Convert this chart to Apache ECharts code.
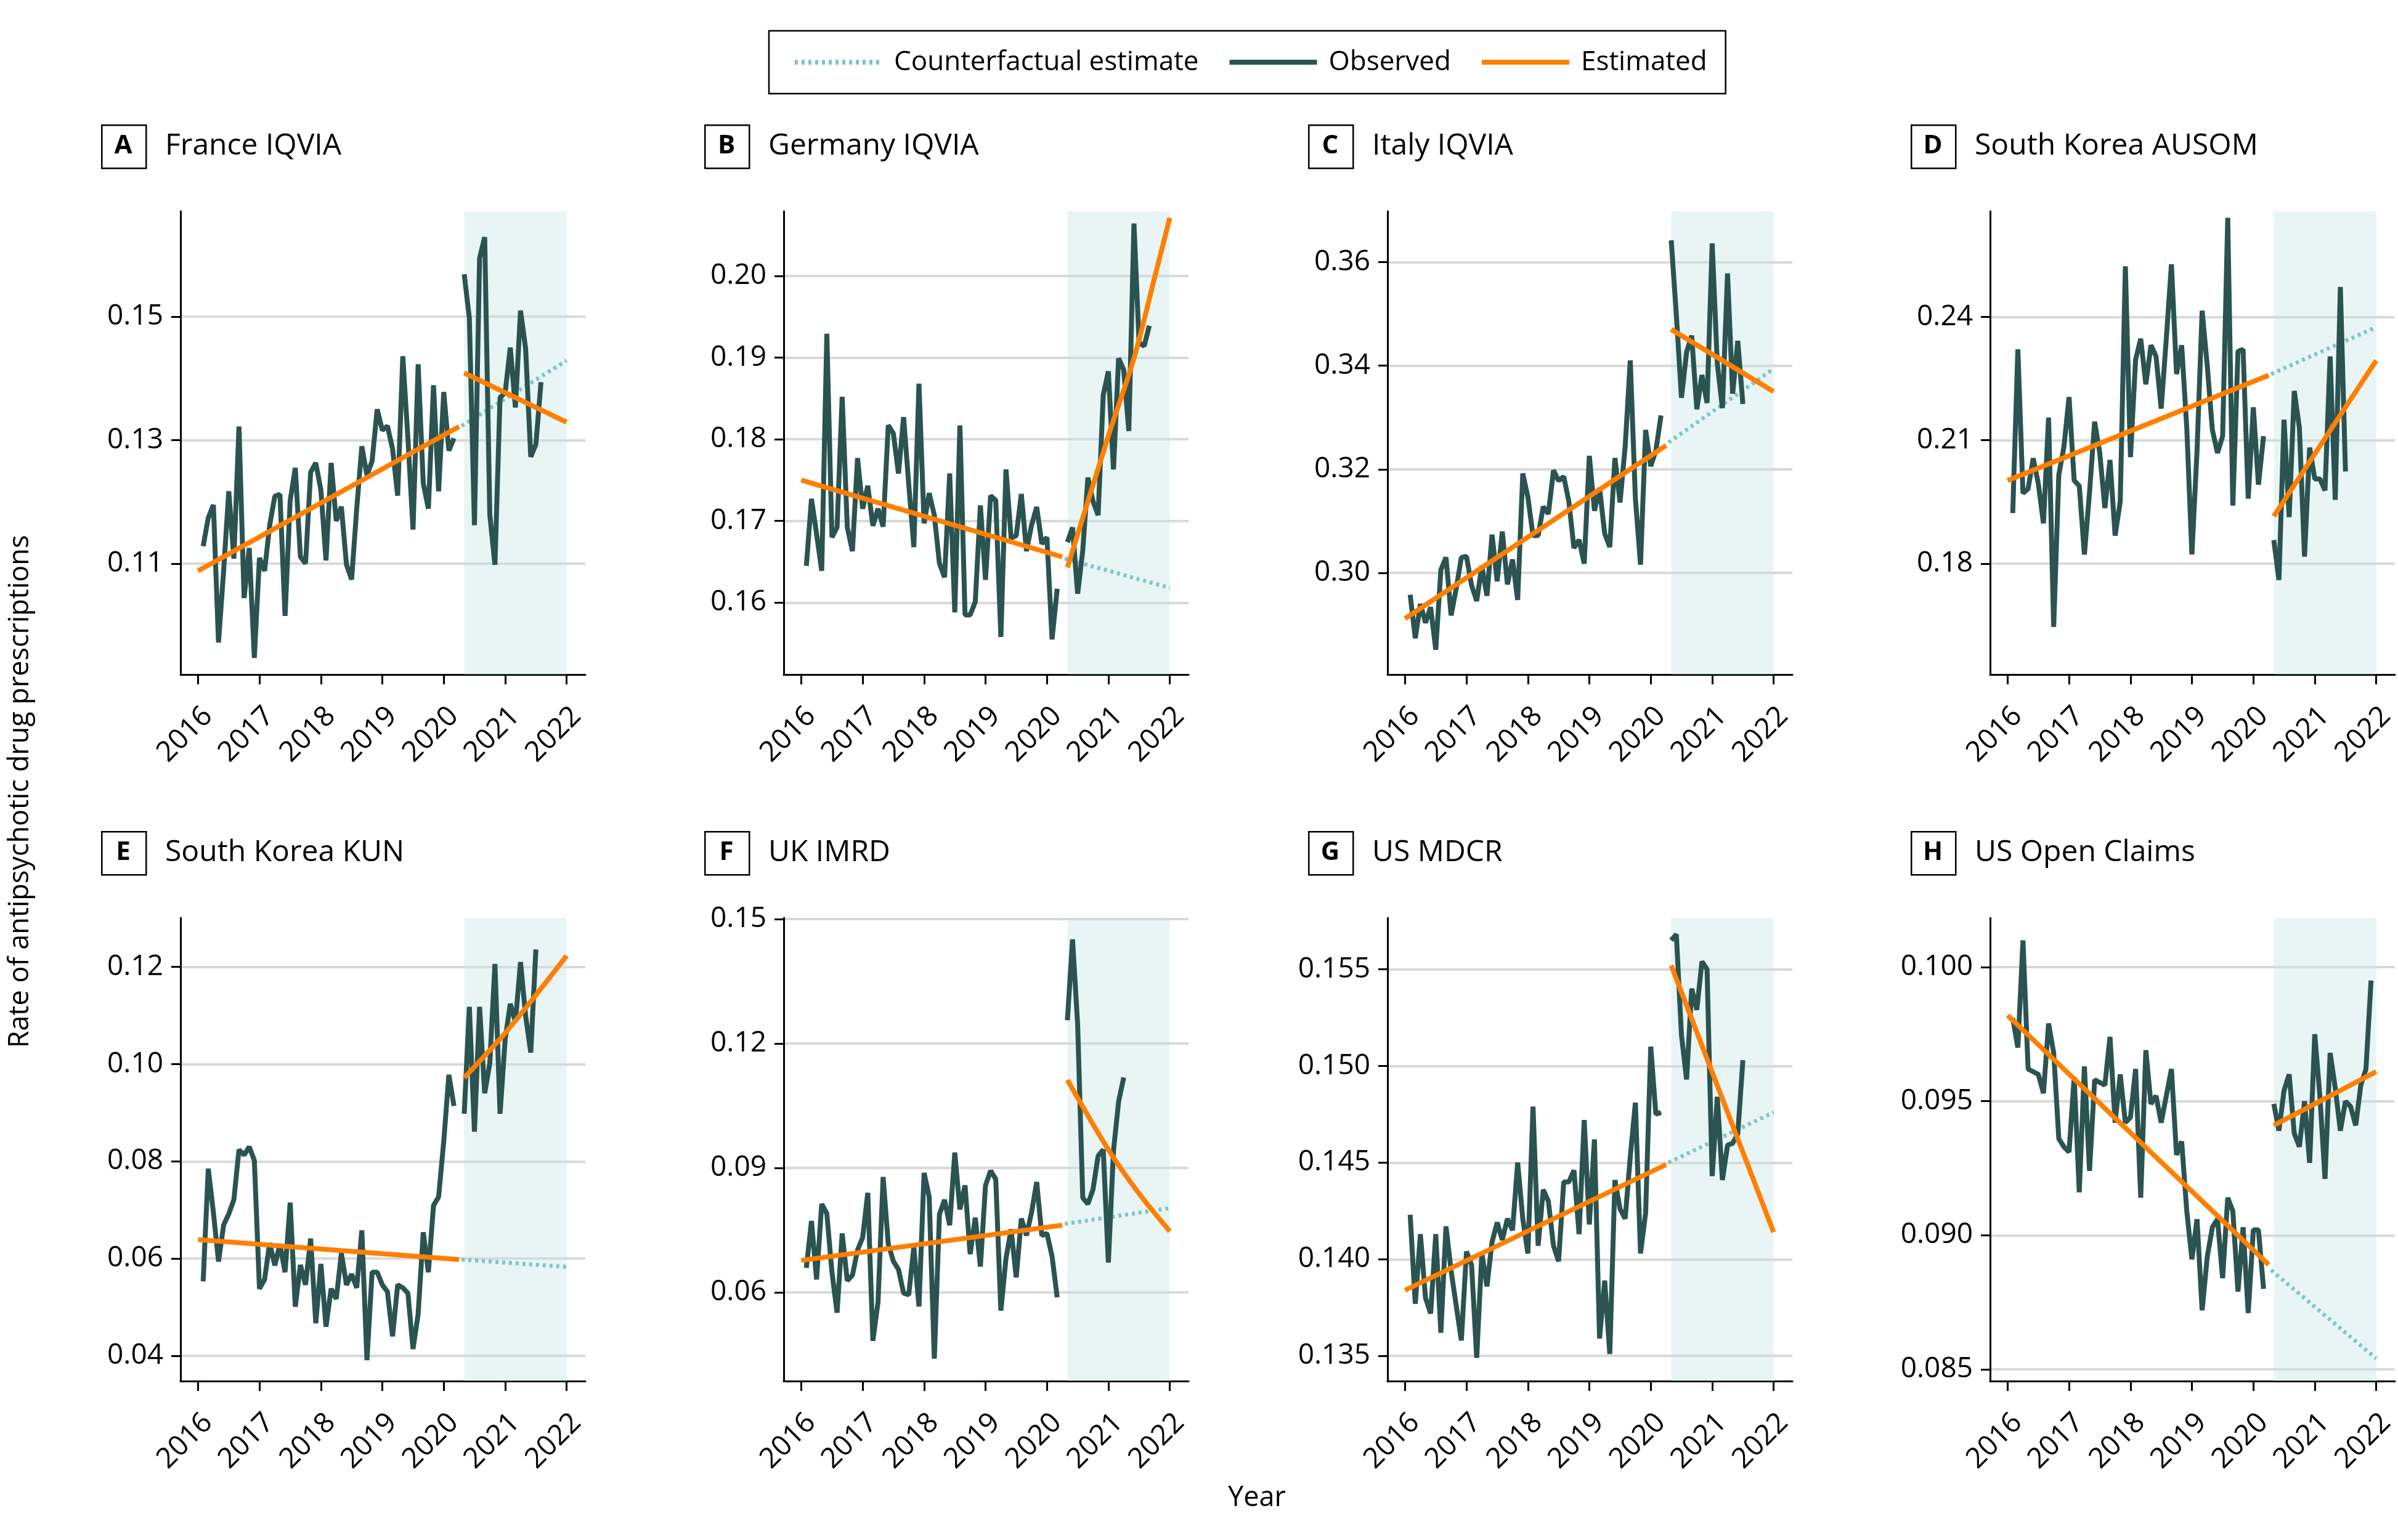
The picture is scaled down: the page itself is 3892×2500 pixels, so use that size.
<!DOCTYPE html>
<html><head><meta charset="utf-8">
<script src="https://cdn.jsdelivr.net/npm/echarts@6/dist/echarts.min.js"></script>
<style>html,body{margin:0;padding:0;background:#fff}#c{width:3892px;height:2500px}</style>
</head><body><div id="c"></div>
<script>
// ---------------- DATA ----------------
const panelLetters = ['A','B','C','D','E','F','G','H'];
const panelTitles = ['France IQVIA','Germany IQVIA','Italy IQVIA','South Korea AUSOM','South Korea KUN','UK IMRD','US MDCR','US Open Claims'];
const yearTicks = [2016,2017,2018,2019,2020,2021,2022];
const yTicks = [
  [0.11,0.13,0.15],
  [0.16,0.17,0.18,0.19,0.20],
  [0.30,0.32,0.34,0.36],
  [0.18,0.21,0.24],
  [0.04,0.06,0.08,0.10,0.12],
  [0.06,0.09,0.12,0.15],
  [0.135,0.140,0.145,0.150,0.155],
  [0.085,0.090,0.095,0.100]
];
const yDecimals = [2,2,2,2,2,2,3,3];
const yRange = [[0.0920,0.1671],[0.1512,0.2079],[0.2804,0.3698],[0.1530,0.2657],[0.0348,0.1301],[0.0386,0.1503],[0.1337,0.15766],[0.08456,0.10184]];

// observed monthly values; pre period starts Jan 2016 (month index 1), post period starts Apr 2020 (month index 52)
const preStartMonth = 1;
const postStartMonth = 52;
const obsPreA = [0.1128,0.1174,0.1195,0.0972,0.1088,0.1217,0.1108,0.1322,0.1044,0.1125,0.0947,0.1109,0.1088,0.1162,0.1209,0.1212,0.1015,0.1202,0.1255,0.1111,0.1100,0.1248,0.1263,0.1219,0.1105,0.1263,0.1169,0.1192,0.1098,0.1074,0.1189,0.1290,0.1243,0.1266,0.1350,0.1316,0.1323,0.1286,0.1210,0.1436,0.1303,0.1155,0.1423,0.1230,0.1189,0.1389,0.1217,0.1378,0.1283,0.1303];
const obsPostA = [0.1569,0.1498,0.1162,0.1595,0.1629,0.1179,0.1098,0.1369,0.1377,0.1450,0.1353,0.1510,0.1448,0.1273,0.1293,0.1394];
const obsPreB = [0.1645,0.1727,0.1684,0.1639,0.1929,0.1680,0.1692,0.1852,0.1692,0.1663,0.1777,0.1715,0.1743,0.1694,0.1715,0.1693,0.1817,0.1807,0.1758,0.1827,0.1745,0.1668,0.1868,0.1697,0.1734,0.1707,0.1648,0.1631,0.1758,0.1588,0.1817,0.1585,0.1585,0.1601,0.1719,0.1628,0.1731,0.1725,0.1558,0.1763,0.1679,0.1682,0.1733,0.1663,0.1695,0.1717,0.1672,0.1680,0.1555,0.1617];
const obsPostB = [0.1674,0.1692,0.1611,0.1664,0.1753,0.1724,0.1707,0.1854,0.1883,0.1763,0.1899,0.1885,0.1810,0.2064,0.1918,0.1914,0.1939];
const obsPreC = [0.2958,0.2874,0.2940,0.2904,0.2934,0.2852,0.3006,0.3030,0.2918,0.2970,0.3030,0.3032,0.2976,0.2946,0.3014,0.2956,0.3074,0.2984,0.3080,0.2978,0.3026,0.2948,0.3192,0.3146,0.3072,0.3072,0.3128,0.3114,0.3198,0.3178,0.3186,0.3138,0.3048,0.3064,0.3018,0.3226,0.3120,0.3164,0.3076,0.3050,0.3222,0.3136,0.3244,0.3410,0.3144,0.3016,0.3276,0.3206,0.3236,0.3304];
const obsPostC = [0.3642,0.3498,0.3338,0.3426,0.3458,0.3316,0.3382,0.3328,0.3636,0.3404,0.3318,0.3578,0.3346,0.3448,0.3326];
const obsPreD = [0.1923,0.2321,0.1971,0.1982,0.2056,0.1994,0.1898,0.2155,0.1646,0.2016,0.2084,0.2205,0.2002,0.1989,0.1822,0.1973,0.2145,0.2069,0.1935,0.2052,0.1868,0.1951,0.2523,0.2059,0.2296,0.2347,0.2236,0.2331,0.2304,0.2177,0.2347,0.2528,0.2261,0.2331,0.2130,0.1822,0.2074,0.2415,0.2281,0.2125,0.2069,0.2110,0.2641,0.1941,0.2316,0.2321,0.1958,0.2180,0.1992,0.2110];
const obsPostD = [0.1857,0.1760,0.2150,0.1913,0.2220,0.2130,0.1817,0.2082,0.2006,0.2006,0.1978,0.2304,0.1955,0.2473,0.2024];
const obsPreE = [0.0553,0.0785,0.0695,0.0594,0.0669,0.0692,0.0721,0.0824,0.0813,0.0830,0.0802,0.0538,0.0557,0.0632,0.0586,0.0630,0.0572,0.0715,0.0501,0.0587,0.0546,0.0641,0.0467,0.0589,0.0460,0.0538,0.0517,0.0611,0.0546,0.0568,0.0540,0.0658,0.0391,0.0572,0.0572,0.0546,0.0532,0.0440,0.0546,0.0540,0.0529,0.0414,0.0486,0.0654,0.0572,0.0709,0.0727,0.0841,0.0978,0.0914];
const obsPostE = [0.0898,0.1118,0.0861,0.1118,0.0940,0.1002,0.1206,0.0898,0.1051,0.1124,0.1087,0.1210,0.1099,0.1024,0.1236];
const obsPreF = [0.0659,0.0772,0.0631,0.0813,0.0790,0.0649,0.0551,0.0742,0.0628,0.0641,0.0702,0.0732,0.0840,0.0483,0.0576,0.0878,0.0717,0.0675,0.0655,0.0598,0.0594,0.0709,0.0566,0.0888,0.0830,0.0440,0.0788,0.0823,0.0762,0.0937,0.0800,0.0858,0.0692,0.0780,0.0662,0.0858,0.0893,0.0873,0.0556,0.0682,0.0752,0.0636,0.0778,0.0737,0.0793,0.0866,0.0737,0.0742,0.0687,0.0588];
const obsPostF = [0.1256,0.1451,0.1246,0.0828,0.0813,0.0848,0.0929,0.0944,0.0672,0.0941,0.1060,0.1118];
const obsPreG = [0.1423,0.1377,0.1413,0.1380,0.1372,0.1413,0.1362,0.1417,0.1394,0.1376,0.1358,0.1404,0.1397,0.1349,0.1403,0.1386,0.1409,0.1419,0.1410,0.1421,0.1415,0.1450,0.1421,0.1403,0.1479,0.1407,0.1436,0.1430,0.1407,0.1399,0.1440,0.1440,0.1446,0.1413,0.1472,0.1418,0.1462,0.1359,0.1389,0.1351,0.1441,0.1426,0.1421,0.1453,0.1481,0.1403,0.1424,0.1510,0.1475,0.1476];
const obsPostG = [0.1565,0.1568,0.1516,0.1493,0.1540,0.1529,0.1554,0.1550,0.1443,0.1484,0.1441,0.1459,0.1460,0.1465,0.1503];
const obsPreH = [0.0981,0.0970,0.1010,0.0962,0.0961,0.0960,0.0953,0.0979,0.0968,0.0936,0.0933,0.0931,0.0959,0.0916,0.0963,0.0924,0.0958,0.0957,0.0956,0.0974,0.0942,0.0960,0.0942,0.0944,0.0962,0.0914,0.0969,0.0949,0.0952,0.0942,0.0952,0.0962,0.0930,0.0935,0.0909,0.0891,0.0906,0.0872,0.0892,0.0903,0.0906,0.0884,0.0914,0.0909,0.0879,0.0903,0.0871,0.0902,0.0902,0.0880];
const obsPostH = [0.0949,0.0939,0.0954,0.0960,0.0938,0.0933,0.0950,0.0927,0.0975,0.0952,0.0921,0.0968,0.0955,0.0939,0.0950,0.0948,0.0941,0.0956,0.0962,0.0995];

// estimated (fitted) lines, [year, rate]
const estPreA = [[2016,0.1088],[2020.25,0.1322]];
const estPostA = [[2020.333,0.1409],[2022,0.1329]];
const cfA = [[2020.29,0.1323],[2022,0.1429]];
const estPreB = [[2016,0.1750],[2020.25,0.1656]];
const estPostB = [[2020.333,0.1643],[2021,0.1804],[2021.42,0.1900],[2021.76,0.2000],[2022,0.2071]];
const cfB = [[2020.29,0.1654],[2022,0.1618]];
const estPreC = [[2016,0.2912],[2020.25,0.3246]];
const estPostC = [[2020.333,0.3470],[2022,0.3350]];
const cfC = [[2020.29,0.3252],[2022,0.3394]];
const estPreD = [[2016,0.2002],[2020.25,0.2258]];
const estPostD = [[2020.333,0.1915],[2022,0.2294]];
const cfD = [[2020.29,0.2261],[2022,0.2375]];
const estPreE = [[2016,0.0639],[2020.25,0.0598]];
const estPostE = [[2020.333,0.0972],[2021,0.1064],[2021.5,0.1142],[2022,0.1223]];
const cfE = [[2020.29,0.0598],[2022,0.0583]];
const estPreF = [[2016,0.0677],[2020.25,0.0762]];
const estPostF = [[2020.333,0.1112],[2021,0.0944],[2021.5,0.0838],[2022,0.0747]];
const cfF = [[2020.29,0.0765],[2022,0.0803]];
const estPreG = [[2016,0.1384],[2020.25,0.1449]];
const estPostG = [[2020.333,0.1552],[2022,0.1414]];
const cfG = [[2020.29,0.1450],[2022,0.1476]];
const estPreH = [[2016,0.0982],[2020.25,0.0889]];
const estPostH = [[2020.333,0.0941],[2022,0.0961]];
const cfH = [[2020.29,0.0887],[2022,0.0854]];

const shadeRange = [2020.333, 2022];

const obsPre = [obsPreA,obsPreB,obsPreC,obsPreD,obsPreE,obsPreF,obsPreG,obsPreH];
const obsPost = [obsPostA,obsPostB,obsPostC,obsPostD,obsPostE,obsPostF,obsPostG,obsPostH];
const estPre = [estPreA,estPreB,estPreC,estPreD,estPreE,estPreF,estPreG,estPreH];
const estPost = [estPostA,estPostB,estPostC,estPostD,estPostE,estPostF,estPostG,estPostH];
const cf = [cfA,cfB,cfC,cfD,cfE,cfF,cfG,cfH];

// ---------------- STYLE / LAYOUT ----------------
const FONT = 'Open Sans';
const OBS = '#2a5351', EST = '#ff7f00', CF = '#80c5c5';
const SHADE = 'rgba(196,228,228,0.38)';
const X_MIN = 2015.715, X_MAX = 2022.305;
const colLeft = [293, 1272, 2252, 3230];
const rowTop = [343, 1490];
const GW = 657, GH = 752;

const monthToYear = m => 2016 + m / 12;

const grids = [], xAxes = [], yAxes = [], series = [], graphics = [];
for (let i = 0; i < 8; i++) {
  const L = colLeft[i % 4], T = rowTop[Math.floor(i / 4)];
  grids.push({left: L, top: T, width: GW, height: GH, containLabel: false});
  xAxes.push({
    type: 'value', gridIndex: i, min: X_MIN, max: X_MAX,
    axisLine: {show: true, onZero: false, lineStyle: {color: '#000', width: 3}},
    axisTick: {show: true, customValues: yearTicks, length: 16, lineStyle: {color: '#000', width: 3}},
    axisLabel: {customValues: yearTicks, rotate: 45, fontSize: 46, fontFamily: FONT, color: '#000', margin: 44,
      verticalAlign: 'top', formatter: v => String(Math.round(v))},
    splitLine: {show: false}
  });
  const dec = yDecimals[i];
  yAxes.push({
    type: 'value', gridIndex: i, min: yRange[i][0], max: yRange[i][1],
    axisLine: {show: true, lineStyle: {color: '#000', width: 3}},
    axisTick: {show: true, customValues: yTicks[i], length: 15, lineStyle: {color: '#000', width: 3}},
    axisLabel: {customValues: yTicks[i], fontSize: 46, fontFamily: FONT, color: '#000', margin: 28, formatter: v => v.toFixed(dec)},
    splitLine: {show: true, lineStyle: {color: '#d9d9d9', width: 4}}
  });
  // shaded post period
  series.push({
    type: 'line', name: 'shade', xAxisIndex: i, yAxisIndex: i, data: [], silent: true, z: 1,
    markArea: {silent: true, itemStyle: {color: SHADE}, data: [[{xAxis: shadeRange[0]}, {xAxis: shadeRange[1]}]]}
  });
  series.push({
    type: 'line', name: 'Counterfactual estimate', xAxisIndex: i, yAxisIndex: i, data: cf[i],
    symbol: 'none', z: 2, lineStyle: {color: CF, width: 6.5, type: [5, 6]}, itemStyle: {color: CF}
  });
  series.push({
    type: 'line', name: 'Observed', xAxisIndex: i, yAxisIndex: i,
    data: obsPre[i].map((v, j) => [monthToYear(preStartMonth + j), v]),
    symbol: 'none', z: 3, lineStyle: {color: OBS, width: 8}, itemStyle: {color: OBS}
  });
  series.push({
    type: 'line', name: 'Observed', xAxisIndex: i, yAxisIndex: i,
    data: obsPost[i].map((v, j) => [monthToYear(postStartMonth + j), v]),
    symbol: 'none', z: 3, lineStyle: {color: OBS, width: 8}, itemStyle: {color: OBS}
  });
  series.push({
    type: 'line', name: 'Estimated', xAxisIndex: i, yAxisIndex: i, data: estPre[i], smooth: 0.3,
    symbol: 'none', z: 4, lineStyle: {color: EST, width: 8}, itemStyle: {color: EST}
  });
  series.push({
    type: 'line', name: 'Estimated', xAxisIndex: i, yAxisIndex: i, data: estPost[i], smooth: 0.3,
    symbol: 'none', z: 4, lineStyle: {color: EST, width: 8}, itemStyle: {color: EST}
  });
  // panel letter box & title
  graphics.push({type: 'rect', left: L - 129, top: T - 141, shape: {width: 72, height: 70},
    style: {fill: '#fff', stroke: '#000', lineWidth: 2.5}});
  graphics.push({type: 'text', x: L - 93, y: T - 106,
    style: {text: panelLetters[i], font: 'bold 42px "' + FONT + '"', fill: '#000', textAlign: 'center', textVerticalAlign: 'middle'}});
  graphics.push({type: 'text', x: L - 25, y: T - 106,
    style: {text: panelTitles[i], font: '48px "' + FONT + '"', fill: '#000', textAlign: 'left', textVerticalAlign: 'middle'}});
}
graphics.push({type: 'text', x: 33, y: 1285, rotation: Math.PI / 2,
  style: {text: 'Rate of antipsychotic drug prescriptions', font: '45px "' + FONT + '"', fill: '#000', textAlign: 'center', textVerticalAlign: 'middle'}});
graphics.push({type: 'text', x: 2040, y: 2432,
  style: {text: 'Year', font: '45px "' + FONT + '"', fill: '#000', textAlign: 'center', textVerticalAlign: 'middle'}});

const chart = echarts.init(document.getElementById('c'), null, {renderer: 'canvas'});
chart.setOption({
  animation: false,
  backgroundColor: '#fff',
  grid: grids, xAxis: xAxes, yAxis: yAxes, series: series,
  legend: {
    data: ['Counterfactual estimate', 'Observed', 'Estimated'],
    left: 1248, top: 50, orient: 'horizontal',
    itemWidth: 142, itemHeight: 8, itemGap: 46,
    padding: [26, 30, 26, 38],
    borderColor: '#000', borderWidth: 2.5,
    itemStyle: {opacity: 0},
    lineStyle: {width: 8},
    textStyle: {fontSize: 44, fontFamily: FONT, color: '#000', padding: [0, 0, 0, 14], lineHeight: 50}
  },
  graphic: graphics
});
</script>
</body></html>
